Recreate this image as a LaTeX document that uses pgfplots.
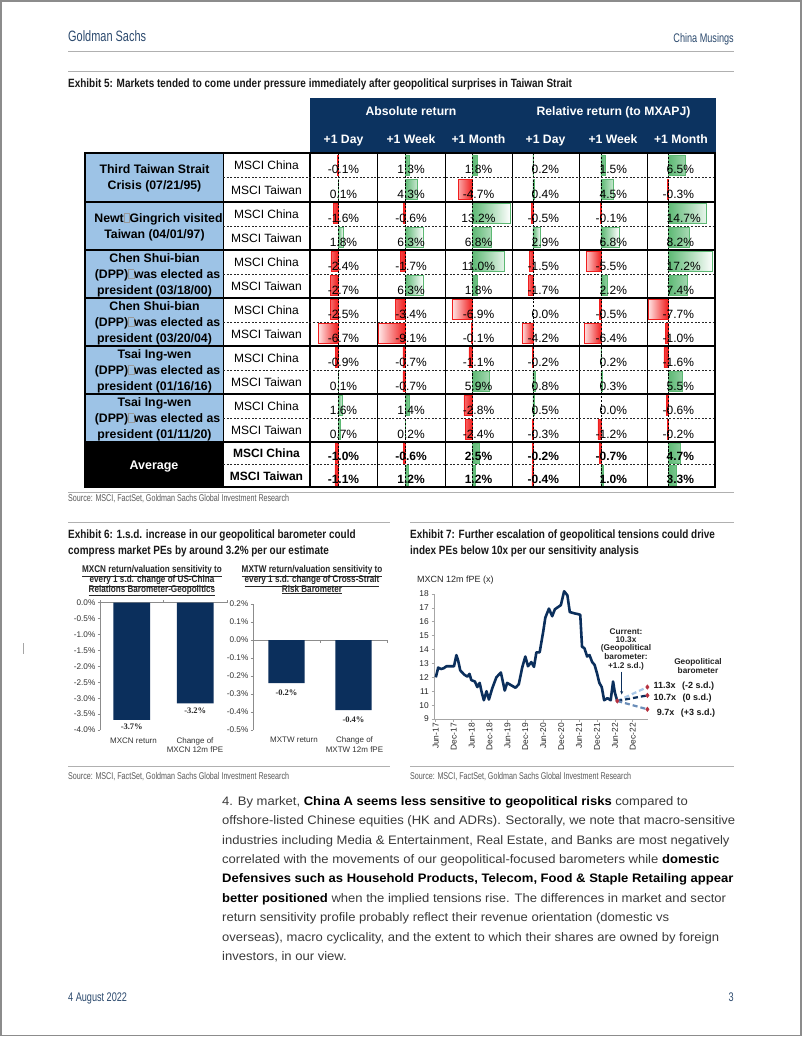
\documentclass[border=0pt]{standalone}
\usepackage{pgfplots}
\pgfplotsset{compat=1.18}
\usepackage{pgfplotstable}
\usepackage{fontspec}
\setmainfont{Liberation Sans}
\newfontfamily\cond[FakeStretch=0.73]{Liberation Sans}
\newfontfamily\condt[FakeStretch=0.83]{Liberation Sans}
\newfontfamily\bodyf[FakeStretch=1.06]{Liberation Sans}
\newfontfamily\serifb{Liberation Serif}
\usetikzlibrary{arrows.meta}

\definecolor{gsnavy}{HTML}{0B2F5C}
\definecolor{hdrnavy}{HTML}{0C3360}
\definecolor{lblue}{HTML}{9DC3E6}
\definecolor{dbgreen}{HTML}{5CB873}
\definecolor{dbred}{HTML}{F01E1E}
\definecolor{gsblue}{HTML}{2C4A6E}
\definecolor{bodygray}{HTML}{3A3A3A}
\definecolor{rulegray}{HTML}{B0B0B0}
\definecolor{projlight}{HTML}{A9C8E8}
\definecolor{projlow}{HTML}{6A8DB8}
\definecolor{dmd}{HTML}{B5303F}

\newcommand{\fs}[1]{\fontsize{#1}{#1}\selectfont}
\protected\def\mneg{\llap{-}}
\newcommand{\bx}{{\color{black!40}\fboxsep=0pt\fboxrule=0.4pt\fbox{\rule{0pt}{8.5pt}\hspace{5pt}}}}

\pgfplotstableread{
yc yb a1 a2 a3 r1 r2 r3 t1 t2 t3
165.25 173.5 -0.1 1.3 1.8 0.2 1.5 6.5 0.2 1.5 6.5
189.75 198 0.1 4.3 -4.7 0.4 4.5 -0.3 0.4 4.5 \mneg0.3
214 222 -1.6 -0.6 13.2 -0.5 -0.1 14.7 \mneg0.5 \mneg0.1 14.7
238 246 1.8 6.3 6.8 2.9 6.8 8.2 2.9 6.8 8.2
262 270 -2.4 -1.7 11.0 -1.5 -5.5 17.2 \mneg1.5 \mneg5.5 17.2
286 294 -2.7 6.3 1.8 -1.7 2.2 7.4 \mneg1.7 2.2 7.4
310 318 -2.5 -3.4 -6.9 0.0 -0.5 -7.7 0.0 \mneg0.5 \mneg7.7
334 342 -6.7 -9.1 -0.1 -4.2 -6.4 -1.0 \mneg4.2 \mneg6.4 \mneg1.0
358 366 -0.9 -0.7 -1.1 -0.2 0.2 -1.6 \mneg0.2 0.2 \mneg1.6
382 390 0.1 -0.7 5.9 0.8 0.3 5.5 0.8 0.3 5.5
406 414 1.6 1.4 -2.8 0.5 0.0 -0.6 0.5 0.0 \mneg0.6
430 438 0.7 0.2 -2.4 -0.3 -1.2 -0.2 \mneg0.3 \mneg1.2 \mneg0.2
453.25 460.5 -1.0 -0.6 2.5 -0.2 -0.7 4.7 \mneg0.2 \mneg0.7 4.7
475.75 483 -1.1 1.2 1.2 -0.4 1.0 3.3 \mneg0.4 1.0 3.3
}\tabdata

\pgfplotsset{
  tcell/.style={anchor=north west, scale only axis, height=334pt, hide axis, clip=false,
    y dir=reverse, ymin=153, ymax=487},
  gbar/.style={xbar, bar shift=0pt, bar width=20, draw=dbgreen, line width=0.5pt,
    left color=dbgreen, right color=white, x filter/.expression={x>0 ? x : nan}},
  rbar/.style={xbar, bar shift=0pt, bar width=20, draw=dbred, line width=0.5pt,
    left color=red!10, right color=dbred, x filter/.expression={x<0 ? x : nan}},
  ctext/.style={draw=none, mark=none, point meta=explicit symbolic,
    y filter/.expression={y<450 ? y : nan},
    nodes near coords={\pgfplotspointmeta\%},
    every node near coord/.append style={anchor=#1, inner sep=0pt, font=\fs{12}, text=black}},
  ctextb/.style={draw=none, mark=none, point meta=explicit symbolic,
    y filter/.expression={y>450 ? y : nan},
    nodes near coords={\pgfplotspointmeta\%},
    every node near coord/.append style={anchor=#1, inner sep=0pt, font=\bfseries\fs{12}, text=black}},
}
\tikzset{
  bl/.style={anchor=base west, inner sep=0pt},
  bc/.style={anchor=base, inner sep=0pt},
  br/.style={anchor=base east, inner sep=0pt},
  zeroline/.style={black, line width=0.9pt, dash pattern=on 2.2pt off 1.6pt},
}

% abs column: left, width, xmin, xmax, value column, text x
\newcommand{\abscol}[6]{%
\begin{axis}[tcell, at={(#1pt,-153pt)}, width=#2pt, xmin=#3, xmax=#4]
\addplot[gbar] table[x=#5, y expr=\thisrow{yc}-0.5] {\tabdata};
\addplot[rbar] table[x=#5, y expr=\thisrow{yc}-0.5] {\tabdata};
\draw[zeroline] (axis cs:0,153) -- (axis cs:0,487);
\addplot[ctext=base] table[x expr=#6, y=yb, meta=#5] {\tabdata};
\addplot[ctextb=base] table[x expr=#6, y=yb, meta=#5] {\tabdata};
\end{axis}}
% rel column: left, width, xmin, xmax, value column, text column
\newcommand{\relcol}[6]{%
\begin{axis}[tcell, at={(#1pt,-153pt)}, width=#2pt, xmin=#3, xmax=#4]
\addplot[gbar] table[x=#5, y expr=\thisrow{yc}-0.5] {\tabdata};
\addplot[rbar] table[x=#5, y expr=\thisrow{yc}-0.5] {\tabdata};
\draw[zeroline] (axis cs:0,153) -- (axis cs:0,487);
\addplot[ctext=base west] table[x expr=-0.57, y=yb, meta=#6] {\tabdata};
\addplot[ctextb=base west] table[x expr=-0.57, y=yb, meta=#6] {\tabdata};
\end{axis}}

\begin{document}
\begin{tikzpicture}
\begin{scope}[x=1pt,y=-1pt]
\fill[white] (0,0) rectangle (802,1037);
\draw[black!45, line width=1.8pt] (0.9,0.9) rectangle (800.6,1035.4);
\draw[black!35, line width=0.8pt] (23,643) -- (23,654);
% page header
\node[bl, font=\cond\fs{15}, text=gsblue] at (68,41.5) {Goldman Sachs};
\node[br, font=\cond\fs{12.5}, text=gsblue] at (734,42.5) {China Musings};
\draw[rulegray, line width=1.2pt] (68,51.5) -- (734,51.5);
\draw[rulegray, line width=1pt] (68,71) -- (734,71);
\node[bl, font=\condt\bfseries\fs{12}, text=black!90] at (68,87.3) {Exhibit 5: Markets tended to come under pressure immediately after geopolitical surprises in Taiwan Strait};
% table header and fills
\fill[hdrnavy] (310,97.5) rectangle (716,153);
\fill[lblue] (85,153) rectangle (223,442);
\fill[black] (85,442) rectangle (223,487);
\end{scope}

% data bar columns
\abscol{310}{67}{-9.49}{13.22}{a1}{1.86}
\abscol{377}{68}{-9.655}{13.79}{a2}{2.07}
\abscol{445}{67}{-9.31}{13.79}{a3}{2.24}
\relcol{512}{67}{-7.92}{17.36}{r1}{t1}
\relcol{579}{68}{-8.30}{17.36}{r2}{t2}
\relcol{647}{68}{-8.08}{18.08}{r3}{t3}

\begin{scope}[x=1pt,y=-1pt]
% header texts
\node[bc, font=\bfseries\fs{12.2}, text=white] at (411,115.4) {Absolute return};
\node[bc, font=\bfseries\fs{12.2}, text=white] at (613.5,115.4) {Relative return (to MXAPJ)};
\foreach \xx/\tt in {343.5/+1 Day,411/+1 Week,478.5/+1 Month,545.5/+1 Day,613/+1 Week,681/+1 Month}
  \node[bc, font=\bfseries\fs{12.2}, text=white] at (\xx,143.7) {\tt};
% grid
\foreach \xx in {223,377,445,512,579,647} \draw[black, line width=0.8pt] (\xx,153) -- (\xx,487);
\draw[black, line width=1.2pt] (310,153) -- (310,487);
\foreach \yy in {177.5,226,274,322,370,418,464.5}
  \draw[black!85, line width=0.8pt, dash pattern=on 2pt off 1.6pt] (223,\yy) -- (715,\yy);
\foreach \yy in {202,250,298,346,394,442} \draw[black, line width=1.8pt] (85,\yy) -- (715,\yy);
\draw[black, line width=2pt] (85,153) rectangle (715,487);
% index names
\foreach \yy in {165.25,214,262,310,358,406} \node[bc, font=\fs{12}] at (266.5,\yy+4.3) {MSCI China};
\foreach \yy in {189.75,238,286,334,382,430} \node[bc, font=\fs{12}] at (266.5,\yy+4.3) {MSCI Taiwan};
\node[bc, font=\bfseries\fs{12}] at (266.5,457.5) {MSCI China};
\node[bc, font=\bfseries\fs{12}] at (266.5,480) {MSCI Taiwan};
% event labels
\begin{scope}[every node/.style={bc, font=\bfseries\fs{12.3}, text=black}]
\node at (154.5,173.8) {Third Taiwan Strait};
\node at (154.5,189.8) {Crisis (07/21/95)};
\node at (158.5,222.3) {Newt\bx Gingrich visited};
\node at (154.5,238.3) {Taiwan (04/01/97)};
\node at (154.5,262.3) {Chen Shui-bian};
\node at (157.5,278.3) {(DPP)\bx was elected as};
\node at (154.5,294.3) {president (03/18/00)};
\node at (154.5,310.3) {Chen Shui-bian};
\node at (157.5,326.3) {(DPP)\bx was elected as};
\node at (154.5,342.3) {president (03/20/04)};
\node at (154.5,358.3) {Tsai Ing-wen};
\node at (157.5,374.3) {(DPP)\bx was elected as};
\node at (154.5,390.3) {president (01/16/16)};
\node at (154.5,406.3) {Tsai Ing-wen};
\node at (157.5,422.3) {(DPP)\bx was elected as};
\node at (154.5,438.3) {president (01/11/20)};
\node[text=white, font=\bfseries\fs{12.5}] at (154,469) {Average};
\end{scope}
% exhibit 5 source
\draw[rulegray, line width=1pt] (68,492.5) -- (734,492.5);
\node[bl, font=\cond\fs{9.8}, text=black!65] at (68,501.5) {Source: MSCI, FactSet, Goldman Sachs Global Investment Research};
% exhibit 6 / 7 titles
\draw[rulegray, line width=1pt] (68,522) -- (390,522);
\draw[rulegray, line width=1pt] (410,522) -- (734,522);
\node[bl, font=\condt\bfseries\fs{12}, text=black!90] at (68,538.6) {Exhibit 6: 1.s.d. increase in our geopolitical barometer could};
\node[bl, font=\condt\bfseries\fs{12}, text=black!90] at (68,554.3) {compress market PEs by around 3.2\% per our estimate};
\node[bl, font=\condt\bfseries\fs{12}, text=black!90] at (410,538.6) {Exhibit 7: Further escalation of geopolitical tensions could drive};
\node[bl, font=\condt\bfseries\fs{12}, text=black!90] at (410,554.3) {index PEs below 10x per our sensitivity analysis};
% exhibit 6 sub-titles
\begin{scope}[every node/.style={bc, font=\condt\bfseries\fs{9.8}, text=black!85}]
\node at (152,572.7) {\underline{MXCN return/valuation sensitivity to}};
\node at (152,582.4) {\underline{every 1 s.d. change of US-China}};
\node at (152,592.1) {\underline{Relations Barometer-Geopolitics}};
\node at (312,572.7) {\underline{MXTW return/valuation sensitivity to}};
\node at (312,582.4) {\underline{every 1 s.d. change of Cross-Strait}};
\node at (312,592.1) {\underline{Risk Barometer}};
\end{scope}
% exhibit 6 category labels
\begin{scope}[every node/.style={bc, font=\fs{8}, text=black!80}]
\node at (133.5,743) {MXCN return};
\node at (195,743) {Change of};
\node at (195,752) {MXCN 12m fPE};
\node at (294,742) {MXTW return};
\node at (354.5,742) {Change of};
\node at (354.5,752) {MXTW 12m fPE};
\end{scope}
% exhibit 7 texts
\node[bl, font=\fs{9}, text=black!85] at (417,582.3) {MXCN 12m fPE (x)};
\begin{scope}[every node/.style={bc, font=\bfseries\fs{8.3}, text=black!85}]
\node at (626,634) {Current:};
\node at (626,642.5) {10.3x};
\node at (626,650.8) {(Geopolitical};
\node at (626,659.2) {barometer:};
\node at (626,668) {+1.2 s.d.)};
\node at (698,664.2) {Geopolitical};
\node at (698,673.2) {barometer};
\end{scope}
\draw[gsnavy, line width=0.8pt, -{Stealth[length=3.5pt,width=3pt]}] (621.7,671.5) -- (621.7,694.5);
\begin{scope}[every node/.style={bl, font=\bfseries\fs{9}, text=black!90}]
\node at (653.3,688.2) {11.3x\hspace{4pt} (-2 s.d.)};
\node at (653.3,700.4) {10.7x\hspace{4pt} (0 s.d.)};
\node at (656.7,715) {9.7x\hspace{4pt} (+3 s.d.)};
\end{scope}
% exhibit 6/7 sources
\draw[rulegray, line width=1pt] (68,766) -- (390,766);
\draw[rulegray, line width=1pt] (410,766) -- (734,766);
\node[bl, font=\cond\fs{9.8}, text=black!65] at (68,779.4) {Source: MSCI, FactSet, Goldman Sachs Global Investment Research};
\node[bl, font=\cond\fs{9.8}, text=black!65] at (410,779.4) {Source: MSCI, FactSet, Goldman Sachs Global Investment Research};
% body text
\begin{scope}[every node/.style={bl, font=\bodyf\fs{12.3}, text=bodygray}]
\node at (222,805.3) {4. By market, {\color{black}\bfseries China A seems less sensitive to geopolitical risks} compared to};
\node at (222,824.7) {offshore-listed Chinese equities (HK and ADRs). Sectorally, we note that macro-sensitive};
\node at (222,844.1) {industries including Media \& Entertainment, Real Estate, and Banks are most negatively};
\node at (222,863.5) {correlated with the movements of our geopolitical-focused barometers while {\color{black}\bfseries domestic}};
\node at (222,882.9) {{\color{black}\bfseries Defensives such as Household Products, Telecom, Food \& Staple Retailing appear}};
\node at (222,902.3) {{\color{black}\bfseries better positioned} when the implied tensions rise. The differences in market and sector};
\node at (222,921.7) {return sensitivity profile probably reflect their revenue orientation (domestic vs};
\node at (222,941.1) {overseas), macro cyclicality, and the extent to which their shares are owned by foreign};
\node at (222,960.5) {investors, in our view.};
\end{scope}
% footer
\node[bl, font=\cond\fs{12.5}, text=gsblue] at (68,1001) {4 August 2022};
\node[br, font=\cond\fs{12.5}, text=gsblue] at (734,1001) {3};
\end{scope}

% Exhibit 6 left chart
\begin{axis}[at={(100pt,-602.7pt)}, anchor=north west, scale only axis, width=127pt, height=127.3pt,
  xmin=-0.5, xmax=1.5, ymin=-4, ymax=0, clip=false,
  axis x line*=top, axis y line*=left,
  axis line style={black!45, line width=0.6pt},
  tick style={black!45, line width=0.6pt}, major tick length=2.5pt, tick align=outside,
  xtick={-0.5,0.5,1.5}, xticklabels={},
  ytick={-4,-3.5,-3,-2.5,-2,-1.5,-1,-0.5,0},
  yticklabels={-4.0\%,-3.5\%,-3.0\%,-2.5\%,-2.0\%,-1.5\%,-1.0\%,-0.5\%,0.0\%},
  yticklabel style={font=\fs{8.2}, text=black!80, inner sep=2pt}]
\addplot[ybar, bar width=0.58, bar shift=0pt, fill=gsnavy, draw=none, point meta=y,
  nodes near coords={\pgfmathprintnumber[fixed,fixed zerofill,precision=1,assume math mode=true]{\pgfplotspointmeta}\%},
  every node near coord/.append style={anchor=north, inner sep=0pt, yshift=-4pt, font=\serifb\bfseries\fs{8.5}, text=black!85}]
  coordinates {(0,-3.68) (1,-3.16)};
\end{axis}

% Exhibit 6 right chart
\begin{axis}[at={(253pt,-604pt)}, anchor=north west, scale only axis, width=134pt, height=126pt,
  xmin=-0.5, xmax=1.5, ymin=-0.5, ymax=0.2, clip=false,
  axis x line*=middle, axis y line*=left,
  axis line style={black!45, line width=0.6pt},
  tick style={black!45, line width=0.6pt}, major tick length=2.5pt, tick align=outside,
  xtick={-0.5,0.5,1.5}, xticklabels={},
  ytick={-0.5,-0.4,-0.3,-0.2,-0.1,0,0.1,0.2},
  yticklabels={-0.5\%,-0.4\%,-0.3\%,-0.2\%,-0.1\%,0.0\%,0.1\%,0.2\%},
  yticklabel style={font=\fs{8.2}, text=black!80, inner sep=2pt}]
\addplot[ybar, bar width=0.54, bar shift=0pt, fill=gsnavy, draw=none, point meta=y,
  nodes near coords={\pgfmathprintnumber[fixed,fixed zerofill,precision=1,assume math mode=true]{\pgfplotspointmeta}\%},
  every node near coord/.append style={anchor=north, inner sep=0pt, yshift=-6pt, font=\serifb\bfseries\fs{8.5}, text=black!85}]
  coordinates {(0,-0.24) (1,-0.39)};
\end{axis}

% Exhibit 7 chart
\begin{axis}[at={(434pt,-594pt)}, anchor=north west, scale only axis, width=213.7pt, height=125pt,
  xmin=-0.6, xmax=71, ymin=9, ymax=18, clip=false,
  axis x line*=bottom, axis y line*=left,
  axis line style={black!35, line width=0.6pt},
  tick style={black!35, line width=0.6pt}, major tick length=2.5pt, tick align=outside,
  xtick={0,6,...,66},
  xticklabels={Jun-17,Dec-17,Jun-18,Dec-18,Jun-19,Dec-19,Jun-20,Dec-20,Jun-21,Dec-21,Jun-22,Dec-22},
  xticklabel style={rotate=90, anchor=east, font=\fs{8.4}, text=black!85, inner sep=1.5pt},
  ytick={9,10,...,18},
  yticklabel style={font=\fs{8.4}, text=black!85, inner sep=2.5pt},
  /pgf/number format/assume math mode=true]
\addplot[gsnavy, line width=2.6pt, line join=round, mark=none] coordinates {
(0,12.0) (0.8,12.7) (1.7,12.6) (2.6,12.65) (3.6,12.8) (4.7,12.8) (6.1,12.8) (6.9,13.6) (7.5,13.2)
(8.2,12.5) (9.5,12.2) (10.6,12.05) (11.3,12.25) (11.9,11.8) (13.1,11.7) (13.9,11.3) (14.7,11.6)
(15.3,11.0) (16.1,10.35) (17.0,11.0) (17.8,10.4) (18.9,11.2) (20.3,12.0) (21.8,12.35) (23.1,11.05)
(23.9,11.6) (25.1,11.45) (26.7,11.25) (27.8,11.5) (29.0,12.75) (30.0,13.5) (30.9,12.8) (32.0,13.1)
(32.9,12.75) (33.7,13.8) (34.8,13.8) (36.0,15.3) (36.7,16.3) (37.9,16.95) (39.0,16.4) (39.9,16.9)
(41.9,17.2) (43.0,18.2) (44.1,17.9) (44.9,16.7) (46.6,16.6) (47.7,16.55) (48.4,16.5) (49.0,14.2)
(49.8,14.1) (50.7,13.5) (51.5,13.6) (52.4,13.1) (53.2,12.9) (54.0,12.3) (54.8,11.6) (55.6,11.3)
(56.4,10.35) (57.5,10.5) (58.6,10.35) (59.4,11.7) (60.0,10.9) (60.8,10.3)};
\addplot[projlight, line width=2.2pt, dash pattern=on 5pt off 3pt, mark=none] coordinates {(60.8,10.3) (70.9,11.3)};
\addplot[gsnavy, line width=2.2pt, dash pattern=on 5pt off 3pt, mark=none] coordinates {(60.8,10.3) (70.9,10.7)};
\addplot[projlow, line width=2.2pt, dash pattern=on 5pt off 3pt, mark=none] coordinates {(60.8,10.3) (70.9,9.7)};
\addplot[only marks, mark=diamond*, mark size=2.3pt, color=dmd] coordinates {(60.8,10.3) (70.9,11.3) (70.9,10.7) (70.9,9.7)};
\end{axis}

\pgfresetboundingbox
\path[use as bounding box] (0pt,0pt) rectangle (802pt,-1037pt);
\end{tikzpicture}
\end{document}
